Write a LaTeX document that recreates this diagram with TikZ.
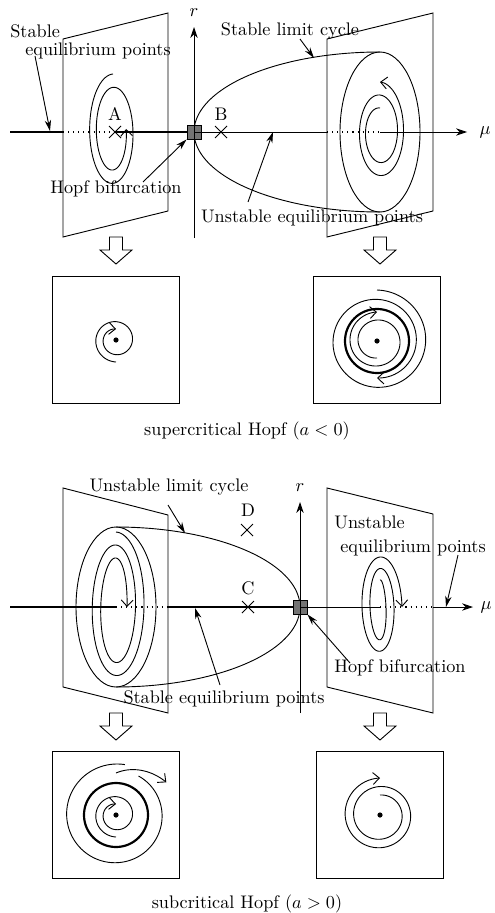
\documentclass[tikz,border=0pt]{standalone}
\usepackage{tikz}
\usetikzlibrary{arrows.meta,calc}

\begin{document}
\begin{tikzpicture}[x=0.0193cm,y=-0.0193cm,>=Stealth,
  thinline/.style={line width=0.5pt},
  eqline/.style={line width=1.5pt},
  dotline/.style={line width=0.6pt,dash pattern=on 0.6pt off 2.2pt},
  planeedge/.style={line width=0.5pt},
  traj/.style={line width=0.5pt},
  cyc/.style={line width=1.2pt},
  flow/.style={-{Straight Barb[length=3.5pt,width=6.5pt]}},
  axisarrow/.style={line width=0.5pt,-{Stealth[length=6pt,width=4pt]}},
  callout/.style={line width=0.5pt,-{Stealth[length=6pt,width=3.5pt]}},
  lbl/.style={inner sep=0pt,anchor=base},
  lblw/.style={inner sep=0pt,anchor=base west},
  crossmark/.style={line width=0.5pt},
  hopfsq/.style={draw,line width=0.5pt,fill=black!55,minimum size=7.7pt,inner sep=0pt},
  phasebox/.style={draw,line width=0.5pt},
  blockarrow/.style={draw,line width=0.5pt,fill=white}]
\useasboundingbox (0,0) rectangle (494,913);

% ---------- supercritical ----------
\draw[planeedge] (63,39) -- (168,13) -- (168,211) -- (63,237) -- cycle;
\draw[planeedge] (327,39) -- (433,13) -- (433,211) -- (327,237) -- cycle;
% stable focus in left plane
\draw[traj,flow] plot[smooth,domain=90:725,samples=140]
  ({113+(25-(\x-90)/540*10)*cos(\x)},{132-(58-(\x-90)/540*20)*sin(\x)});
% limit cycle and its branches
\draw[traj] (380,132) ellipse [x radius=40, y radius=80];
\draw[traj] plot[smooth,domain=90:270,samples=90] ({380+186*cos(\x)},{132+80*sin(\x)});
\draw[traj,flow] plot[smooth,domain=90:810,samples=160]
  ({380+(13+(\x-90)/360*6)*cos(\x)},{132-(24+(\x-90)/360*13)*sin(\x)});
% axes
\coordinate (muA) at (467,132);
\coordinate (rA) at (194,27);
\node[hopfsq] (hopfA) at (194,132) {};
\draw[eqline] (10,132) -- (63,132);
\draw[dotline] (63,132) -- (115,132);
\draw[eqline] (115,132) -- (hopfA.west);
\draw[thinline] (hopfA.center) -- (327,132);
\draw[dotline] (327,132) -- (380,132);
\draw[axisarrow] (380,132) -- (muA);
\draw[axisarrow] (194,238) -- (rA);
\node (muLblA) at (485,132) {$\mu$};
\node (rLblA) at (194,13) {$r$};
% points A and B
\coordinate (ptA) at (115,132);
\coordinate (ptB) at (221,132);
\draw[crossmark] (ptA) +(-6,-6) -- +(6,6) +(-6,6) -- +(6,-6);
\draw[crossmark] (ptB) +(-6,-6) -- +(6,6) +(-6,6) -- +(6,-6);
\node (lblA) at (115,114) {A};
\node (lblB) at (221,114) {B};
% labels
\node[lblw] (lblStable) at (10,38) {Stable};
\node[lblw] (lblEqA) at (25,56) {equilibrium points};
\node[lbl] (lblSLC) at (290,36) {Stable limit cycle};
\node[lbl] (lblUEP) at (312,222) {Unstable equilibrium points};
\node[lbl] (lblHopfA) at (116,193) {Hopf bifurcation};
\coordinate (eqA) at (50,131);
\coordinate (slcA) at (314,58);
\coordinate (uepA) at (273,132);
\draw[callout] ($(lblEqA.base west)+(10,0)$) -- (eqA);
\draw[callout] ($(lblSLC.base)+(10,3)$) -- (slcA);
\draw[callout] ($(lblUEP.base)+(-64,-20)$) -- (uepA);
\draw[callout] ($(lblHopfA.base)+(27,-11)$) -- (hopfA.south west);

% ---------- subcritical ----------
\draw[planeedge] (63,488) -- (168,515) -- (168,713) -- (63,687) -- cycle;
\draw[planeedge] (327,488) -- (433,514) -- (433,713) -- (327,687) -- cycle;
% unstable limit cycle and its branches
\draw[traj] (116,607) ellipse [x radius=40, y radius=80];
\draw[traj] plot[smooth,domain=-90:90,samples=90] ({116+184*cos(\x)},{607+80*sin(\x)});
\draw[traj,flow] plot[smooth,domain=270:1080,samples=180]
  ({116+(28-(\x-360)/720*17)*cos(\x)},{607+(75-(\x-270)/180*6.5)*sin(\x)});
% unstable focus in right plane
\draw[traj,flow] plot[smooth,domain=270:1080,samples=180]
  ({380+(4+(\x-270)/810*18)*cos(\x)},{607+(27+(\x-270)/720*23)*sin(\x)});
% axes
\coordinate (muB) at (473,607);
\coordinate (rB) at (300,502);
\node[hopfsq] (hopfB) at (300,607) {};
\draw[eqline] (10,607) -- (116,607);
\draw[dotline] (116,607) -- (168,607);
\draw[eqline] (168,607) -- (hopfB.west);
\draw[thinline] (hopfB.center) -- (380,607);
\draw[dotline] (380,607) -- (433,607);
\draw[axisarrow] (433,607) -- (muB);
\draw[axisarrow] (300,713) -- (rB);
\node (muLblB) at (486,607) {$\mu$};
\node (rLblB) at (300,488) {$r$};
% points C and D
\coordinate (ptC) at (248,607);
\coordinate (ptD) at (247,530);
\draw[crossmark] (ptC) +(-6,-6) -- +(6,6) +(-6,6) -- +(6,-6);
\draw[crossmark] (ptD) +(-6,-6) -- +(6,6) +(-6,6) -- +(6,-6);
\node (lblC) at (248,588) {C};
\node (lblD) at (248,510) {D};
% labels
\node[lbl] (lblULC) at (169,491) {Unstable limit cycle};
\node[lblw] (lblUnst) at (334,528) {Unstable};
\node[lblw] (lblEqB) at (340,552) {equilibrium points};
\node[lbl] (lblHopfB) at (400,672) {Hopf bifurcation};
\node[lbl] (lblSEP) at (224,703) {Stable equilibrium points};
\coordinate (ulcB) at (185,533);
\coordinate (uepB) at (446,607);
\coordinate (sepB) at (195,608);
\draw[callout] ($(lblULC.base)+(-1,14)$) -- (ulcB);
\draw[callout] ($(lblEqB.base west)+(118,3)$) -- (uepB);
\draw[callout] ($(lblHopfB.base)+(-50,-9)$) -- (hopfB.south east);
\draw[callout] ($(lblSEP.base)+(-4,-18)$) -- (sepB);

% ---------- projections ----------
\foreach \bx/\by in {116/237,380/237,116/713,380/713}
  \draw[blockarrow] (\bx,\by) ++(-6.5,0) -- ++(13,0) -- ++(0,13) -- ++(9.5,0)
    -- ++(-16,14) -- ++(-16,-14) -- ++(9.5,0) -- cycle;
\foreach \bx/\by in {116/340,377/340,116/815,380/815}
  \draw[phasebox] (\bx-63.5,\by-63.5) rectangle (\bx+63.5,\by+63.5);

% stable focus
\fill (116,340) circle [radius=2.6];
\draw[traj,flow] plot[smooth,domain=90:630,samples=100]
  ({116+(22-(\x-90)/540*11)*cos(\x)},{340+(22-(\x-90)/540*11)*sin(\x)});
% stable limit cycle
\fill (377,341) circle [radius=2.6];
\draw[cyc] (377,341) circle [radius=32];
\draw[traj,flow] plot[smooth,domain=90:630,samples=100]
  ({377+(17+(\x-90)/540*12)*cos(\x)},{341+(17+(\x-90)/540*12)*sin(\x)});
\draw[traj,flow] plot[smooth,domain=270:810,samples=100]
  ({377+(51-(\x-270)/540*14)*cos(\x)},{341+(51-(\x-270)/540*14)*sin(\x)});
% unstable limit cycle
\fill (116,815) circle [radius=2.6];
\draw[cyc] (116,815) circle [radius=32];
\draw[traj,flow] plot[smooth,domain=90:630,samples=100]
  ({116+(22-(\x-90)/540*11)*cos(\x)},{815+(22-(\x-90)/540*11)*sin(\x)});
\draw[traj] plot[smooth,domain=300:640,samples=100]
  ({116+(45+(\x-300)/330*6)*cos(\x)},{815+(45+(\x-300)/330*6)*sin(\x)});
\draw[traj,flow] plot[smooth,domain=270:327,samples=30]
  ({116+(42+(\x-270)/57*18)*cos(\x)},{815+(42+(\x-270)/57*18)*sin(\x)});
% unstable focus
\fill (380,815) circle [radius=2.6];
\draw[traj,flow] plot[smooth,domain=270:990,samples=120]
  ({380+(20+(\x-270)/720*17)*cos(\x)},{815+(20+(\x-270)/720*17)*sin(\x)});

\node (capSup) at (247,431) {supercritical Hopf ($a<0$)};
\node (capSub) at (247,904) {subcritical Hopf ($a>0$)};
\end{tikzpicture}
\end{document}
